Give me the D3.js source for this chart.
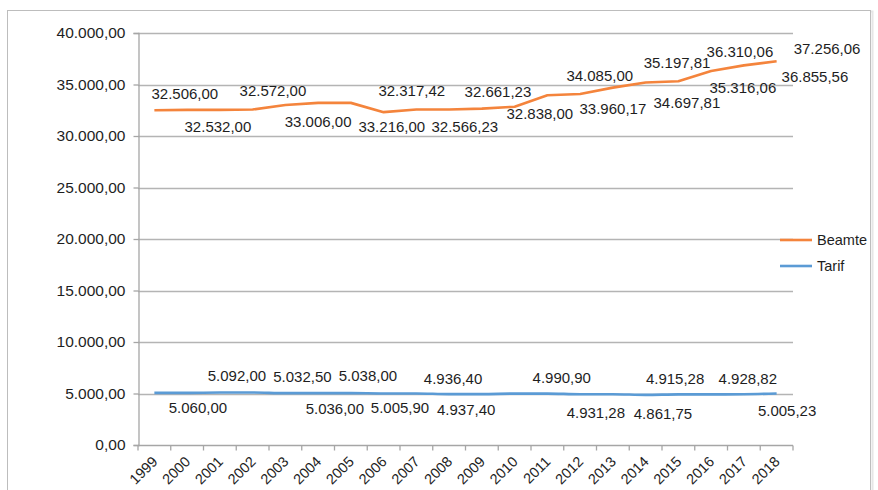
<!DOCTYPE html>
<html><head><meta charset="utf-8">
<script src="https://cdn.jsdelivr.net/npm/d3@7"></script>
<style>
body{margin:0;background:#fff;}
svg{display:block;font-family:"Liberation Sans",Arial,sans-serif;}
</style>
</head><body>
<svg id="c" width="878" height="490"></svg>
<script>
// ---------------- data ----------------
const years = ["1999","2000","2001","2002","2003","2004","2005","2006","2007","2008",
               "2009","2010","2011","2012","2013","2014","2015","2016","2017","2018"];
const seriesNames = ["Beamte","Tarif"];
const beamte = [32506.00,32532.00,32532.00,32572.00,33006.00,33216.00,33216.00,32317.42,32566.23,32566.23,
                32661.23,32838.00,33960.17,34085.00,34697.81,35197.81,35316.06,36310.06,36855.56,37256.06];
const tarif  = [5060.00,5060.00,5092.00,5092.00,5032.50,5036.00,5038.00,5005.90,5005.90,4936.40,
                4937.40,4990.90,4990.90,4931.28,4931.28,4861.75,4915.28,4915.28,4928.82,5005.23];
const yTicks = [0,5000,10000,15000,20000,25000,30000,35000,40000];

// data-label texts (values as printed in the chart)
const beamteLabelValues = [32506.00,32532.00,32572.00,33006.00,33216.00,32317.42,32566.23,32661.23,32838.00,
                           34085.00,33960.17,35197.81,34697.81,36310.06,35316.06,37256.06,36855.56];
const tarifLabelValues  = [5060.00,5092.00,5032.50,5036.00,5038.00,5005.90,4936.40,4937.40,4990.90,
                           4931.28,4861.75,4915.28,4928.82,5005.23];

// ---------------- layout (label anchors: [category position, value-axis position]) ----------------
const beamteLabelAnchor = [[0.93,34078],[1.94,30874],[3.62,34369],[5.0,31359],[7.25,30874],[7.86,34369],
                           [9.48,30874],[10.49,34272],[11.77,32136],[13.6,35825],[14.0,32621],[15.96,37087],
                           [16.26,33204],[17.88,38155],[17.97,34660],[20.54,38447],[20.17,35728]];
const tarifLabelAnchor  = [[1.33,3592],[2.52,6699],[4.52,6602],[5.51,3495],[6.52,6699],[7.5,3592],
                           [9.12,6408],[9.52,3398],[12.44,6505],[13.48,3107],[15.53,3010],[15.9,6408],
                           [18.12,6408],[19.32,3301]];

const colors = {Beamte:"#f4843c", Tarif:"#5b9bd5"};
const textColor = "#1e1e1e";

const svg = d3.select("#c");
const m = {left:138, right:793, top:33, bottom:445};

// frame
svg.append("rect").attr("x",8.5).attr("y",11.5).attr("width",864).attr("height",490)
   .attr("fill","none").attr("stroke","#e6e6e6").attr("stroke-width",2);
svg.append("rect").attr("x",7.5).attr("y",10.5).attr("width",863).attr("height",490)
   .attr("fill","#fff").attr("stroke","#bdbdbd").attr("stroke-width",1);

const x = d3.scaleBand().domain(years).range([m.left, m.right]).padding(0);
const y = d3.scaleLinear().domain([0,40000]).range([m.bottom, m.top]);
const cx = i => m.left + x.step()*(i+0.5);

const locale = d3.formatLocale({decimal:",", thousands:".", grouping:[3], currency:["","€"]});
const fmt = locale.format(",.2f");

// gridlines
svg.append("g").selectAll("line").data(yTicks.filter(d=>d>0)).join("line")
   .attr("x1",m.left).attr("x2",m.right)
   .attr("y1",d=>Math.round(y(d))+0.5).attr("y2",d=>Math.round(y(d))+0.5)
   .attr("stroke","#b4b4b4").attr("stroke-width",1.3);

// y axis
const yAxis = svg.append("g").attr("transform",`translate(${m.left+0.5},0)`)
   .call(d3.axisLeft(y).tickValues(yTicks).tickFormat(fmt).tickSize(5).tickPadding(8));
yAxis.select(".domain").attr("stroke","#a6a6a6").attr("stroke-width",1.3);
yAxis.selectAll(".tick line").attr("stroke","#a6a6a6").attr("stroke-width",1.3);
yAxis.selectAll("text").attr("font-size","15.5px").attr("fill",textColor)
   .attr("font-family","'Liberation Sans',Arial,sans-serif");

// x axis
const xAxisG = svg.append("g").attr("transform",`translate(0,${m.bottom+0.5})`);
xAxisG.append("line").attr("x1",m.left).attr("x2",m.right).attr("stroke","#a6a6a6").attr("stroke-width",1.3);
xAxisG.selectAll("line.tk").data(d3.range(years.length+1)).join("line").attr("class","tk")
   .attr("x1",i=>m.left+x.step()*i).attr("x2",i=>m.left+x.step()*i)
   .attr("y1",0).attr("y2",5).attr("stroke","#a6a6a6").attr("stroke-width",1.3);
xAxisG.selectAll("text").data(years).join("text")
   .attr("transform",(d,i)=>`translate(${cx(i)+4},${17}) rotate(-45)`)
   .attr("text-anchor","end").attr("font-size","14.5px").attr("fill",textColor).text(d=>d);

// lines
svg.append("path").datum(tarif).attr("d",d3.line().x((d,i)=>cx(i)).y(d=>y(d)).curve(d3.curveMonotoneX))
   .attr("fill","none").attr("stroke",colors.Tarif).attr("stroke-width",2.6);
svg.append("path").datum(beamte).attr("d",d3.line().x((d,i)=>cx(i)).y(d=>y(d)))
   .attr("fill","none").attr("stroke",colors.Beamte).attr("stroke-width",2.6).attr("stroke-linejoin","round");

// data labels
function drawLabels(vals, anchors){
  svg.append("g").selectAll("text").data(vals).join("text")
    .attr("x",(d,i)=>cx(anchors[i][0]))
    .attr("y",(d,i)=>y(anchors[i][1]))
    .attr("dy","0.35em").attr("text-anchor","middle")
    .attr("font-size","15px").attr("fill",textColor)
    .text(d=>fmt(d));
}
drawLabels(beamteLabelValues, beamteLabelAnchor);
drawLabels(tarifLabelValues, tarifLabelAnchor);

// legend
const leg = svg.append("g");
seriesNames.forEach((s,k)=>{
  const ly = 240 + k*26;
  leg.append("line").attr("x1",780).attr("x2",812).attr("y1",ly).attr("y2",ly)
     .attr("stroke",colors[s]).attr("stroke-width",2.6);
  leg.append("text").attr("x",817).attr("y",ly).attr("dy","0.35em")
     .attr("font-size","14.5px").attr("fill",textColor).text(s);
});
</script>
</body></html>
